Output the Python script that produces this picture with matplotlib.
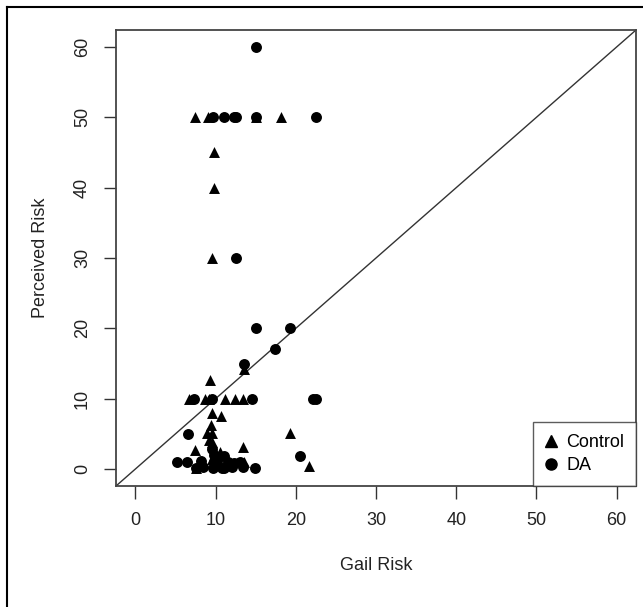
import matplotlib
matplotlib.use("Agg")
import matplotlib.pyplot as plt
from matplotlib.lines import Line2D

plt.rcParams['font.family'] = ['Liberation Sans', 'DejaVu Sans']

# Control group (triangles): Gail risk, perceived risk
control_gail = [7.4, 9.1, 15.0, 18.2, 9.8, 9.8, 9.6, 13.6, 9.3,
                6.7, 8.7, 9.2, 11.2, 12.4, 13.4,
                9.6, 10.7, 9.4, 8.9, 9.6, 19.3, 9.2, 9.6, 7.5, 13.4,
                21.7, 7.6, 13.5, 9.6, 10.5, 9.8]
control_perc = [50, 50, 50, 50, 45, 40, 30, 14.2, 12.6,
                10, 10, 10, 10, 10, 10,
                8.0, 7.6, 6.3, 5.2, 5.2, 5.2, 4.1, 3.9, 2.7, 3.1,
                0.4, 0.2, 1.0, 1.5, 2.5, 2.0]

# DA group (circles)
da_gail = [15.0, 9.7, 11.1, 12.3, 12.6, 15.0, 22.5, 12.6, 15.0, 19.3, 17.4, 13.5,
           7.3, 9.6, 14.5, 22.1, 22.5, 6.6, 20.5,
           5.2, 6.4, 8.2, 9.6, 9.8, 10.2, 11.1, 11.5, 12.3, 13.1,
           7.6, 8.5, 9.7, 10.8, 11.1, 12.1, 13.4, 14.9, 10.0, 9.9]
da_perc = [60, 50, 50, 50, 50, 50, 50, 30, 20, 20, 17, 15,
           10, 10, 10, 10, 10, 5.0, 1.8,
           1.0, 1.0, 1.2, 2.8, 2.0, 1.2, 1.8, 1.0, 0.8, 1.0,
           0.2, 0.3, 0.1, 0.2, 0.1, 0.3, 0.3, 0.1, 0.8, 1.5]

ticks = [0, 10, 20, 30, 40, 50, 60]

W, H = 643, 607
fig = plt.figure(figsize=(W / 100, H / 100), dpi=100)
ax = fig.add_axes([116 / W, (H - 486) / H, 520 / W, 456 / H])

ax.set_xlim(-2.4, 62.4)
ax.set_ylim(-2.4, 62.4)

ax.axline((0, 0), slope=1, color='#333333', lw=1.0, zorder=1)

ax.scatter(control_gail, control_perc, marker='^', s=62, color='black',
           linewidths=0, zorder=3)
ax.scatter(da_gail, da_perc, marker='o', s=62, color='black',
           linewidths=0, zorder=3)

ax.set_xticks(ticks)
ax.set_yticks(ticks)
ax.set_xticklabels([str(t) for t in ticks])
ax.set_yticklabels([str(t) for t in ticks], rotation=90, va='center')
ax.tick_params(direction='out', length=9, width=1.0, labelsize=13,
               color='#333333', labelcolor='#222222')
ax.tick_params(axis='x', pad=10)
ax.tick_params(axis='y', pad=9)

for sp in ax.spines.values():
    sp.set_color('#444444')
    sp.set_linewidth(1.3)

ax.set_xlabel('Gail Risk', fontsize=13, color='#222222', labelpad=20)
ax.set_ylabel('Perceived Risk', fontsize=13, color='#222222', labelpad=18)

handles = [Line2D([], [], marker='^', color='black', ls='none', markersize=8),
           Line2D([], [], marker='o', color='black', ls='none', markersize=8)]
leg = ax.legend(handles, ['Control', 'DA'], loc='lower right', fontsize=13,
                frameon=True, fancybox=False, borderaxespad=0,
                handlelength=0.7, handletextpad=0.5, labelspacing=0.35,
                borderpad=0.65)
leg.get_frame().set_edgecolor('#333333')
leg.get_frame().set_linewidth(1.0)

# outer frame of the figure (left and top edges visible)
fig.add_artist(Line2D([7 / W, 7 / W], [0, 1 - 7 / H], transform=fig.transFigure,
                      color='black', lw=1.5))
fig.add_artist(Line2D([7 / W, 1], [1 - 7 / H, 1 - 7 / H], transform=fig.transFigure,
                      color='black', lw=1.5))

fig.savefig('out.png', dpi=100)
